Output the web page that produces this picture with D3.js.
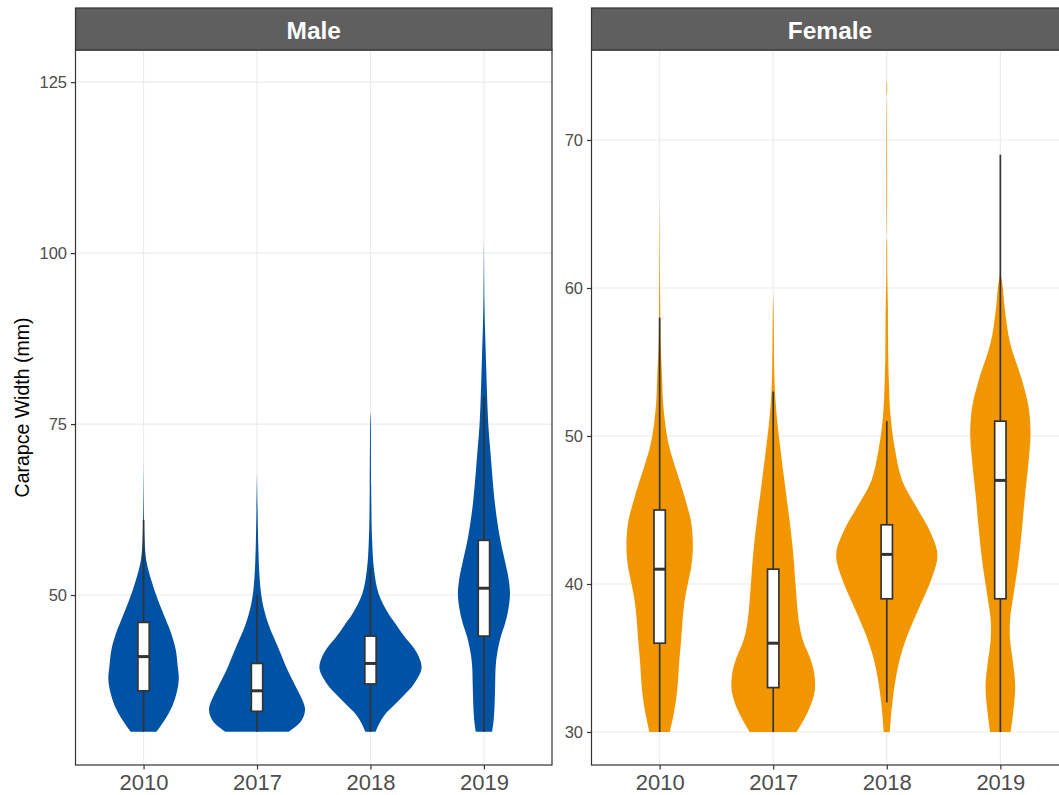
<!DOCTYPE html>
<html>
<head>
<meta charset="utf-8">
<script src="https://cdn.jsdelivr.net/npm/d3@7"></script>
<style>
  html, body { margin: 0; padding: 0; background: #ffffff; }
  svg { display: block; font-family: "Liberation Sans", Arial, sans-serif; }
</style>
</head>
<body>
<svg id="chart" width="1059" height="795"></svg>
<script>
// ---- Data -------------------------------------------------------------
const years = ["2010", "2017", "2018", "2019"];
const sexes = ["Male", "Female"];

// Box statistics per year: [lower whisker, Q1, median, Q3, upper whisker] (mm)
const maleBox = [
  [30, 36, 41, 46, 61],
  [30, 33, 36, 40, 50],
  [30, 37, 40, 44, 54],
  [30, 44, 51, 58, 79]
];
const femaleBox = [
  [30, 36, 41, 45, 58],
  [30, 33, 36, 41, 53],
  [32, 39, 42, 44, 51],
  [30, 39, 47, 51, 69]
];

// Violin density profiles: [carapace width (mm), relative density 0..1]
const maleViolin2010 = [[30,.25],[31.7,.41],[33.9,.57],[36.1,.66],[37.8,.69],[39.5,.67],[42,.63],[44.4,.54],[46.3,.44],[49.3,.28],[52.2,.15],[55.1,.053],[58,.02],[62.9,.006],[69.8,0]];
const maleViolin2017 = [[30,.62],[31.5,.86],[33.2,.94],[34.6,.89],[36.6,.76],[39,.6],[42.4,.41],[45.4,.24],[47.8,.14],[50.2,.08],[53.2,.045],[57.1,.025],[61,.014],[67.8,0]];
const maleViolin2018 = [[30,.1],[31.2,.17],[32.5,.28],[33.8,.45],[35.3,.65],[37,.85],[39.3,1],[41,.945],[42.4,.835],[43.9,.67],[45.6,.51],[47.3,.35],[50.2,.16],[53.7,.07],[58.5,.03],[65.8,.014],[75.6,.006],[76.8,0]];
const maleViolin2019 = [[30,.16],[31.7,.19],[34.2,.21],[37,.22],[39.5,.23],[41.5,.26],[43.9,.33],[46,.42],[48,.48],[50.2,.51],[52.5,.48],[55,.41],[58.5,.31],[63.4,.215],[70.7,.13],[75,.085],[79.5,.06],[84.4,.04],[89.2,.02],[92.7,.01],[102,0]];

const femaleViolin2010 = [[30,.2],[31.3,.28],[32.4,.33],[33.5,.36],[34.6,.38],[36.2,.42],[38,.46],[39.1,.5],[40,.55],[41.2,.62],[42.5,.65],[44.1,.62],[45.5,.52],[47,.39],[48.4,.26],[49.7,.16],[51.1,.1],[52.4,.065],[53.8,.05],[56.3,.02],[59.2,.01],[66.1,0]];
const femaleViolin2017 = [[30,.46],[31.3,.67],[32.4,.79],[33.1,.82],[34.2,.79],[35.1,.71],[36.2,.58],[37.3,.51],[38.5,.47],[40.3,.43],[42.1,.39],[44.3,.32],[46.4,.24],[48.6,.16],[50.6,.09],[52.4,.045],[53.8,.025],[55.1,.018],[58.3,.008],[59.7,0]];
const femaleViolin2018 = [[30,.06],[31.7,.1],[33.5,.17],[35,.26],[36.5,.4],[38.3,.62],[40.3,.87],[42,.99],[43.6,.84],[45.2,.58],[47,.3],[49.3,.15],[51.5,.07],[53.8,.04],[55.1,.03],[59,.02],[60.8,.01],[63.2,.005],[63.4,0],[72.9,0],[73.2,.005],[73.8,.005],[74,0]];
const femaleViolin2019 = [[30,.2],[31.3,.25],[33.1,.29],[34.6,.25],[36.2,.19],[37.6,.19],[39.1,.25],[41.4,.35],[43.6,.42],[45.9,.48],[48.2,.55],[50.2,.59],[52,.55],[53.8,.42],[56.3,.19],[58.5,.09],[60.1,.045],[61.1,0]];

const maleViolins = [maleViolin2010, maleViolin2017, maleViolin2018, maleViolin2019];
const femaleViolins = [femaleViolin2010, femaleViolin2017, femaleViolin2018, femaleViolin2019];

const maleTicks = [50, 75, 100, 125];
const femaleTicks = [30, 40, 50, 60, 70];

// ---- Layout -----------------------------------------------------------
const svg = d3.select("#chart");
const panelTop = 50, panelBottom = 765, stripTop = 8;

const panels = [
  { name: sexes[0], x0: 75.5, x1: 552, domain: [25.15, 129.7], ticks: maleTicks,
    box: maleBox, violins: maleViolins, fill: "#0052A5" },
  { name: sexes[1], x0: 591.5, x1: 1068.5, domain: [27.77, 76.08], ticks: femaleTicks,
    box: femaleBox, violins: femaleViolins, fill: "#F29600" }
];

const lineCol = "#333333";

panels.forEach(p => {
  const x = d3.scalePoint().domain(years).range([p.x0, p.x1]).padding(0.6);
  const y = d3.scaleLinear().domain(p.domain).range([panelBottom, panelTop]);
  const halfMax = 0.45 * x.step();
  const boxHalf = 0.05 * x.step();

  const g = svg.append("g");

  // panel background
  g.append("rect")
    .attr("x", p.x0).attr("y", panelTop)
    .attr("width", p.x1 - p.x0).attr("height", panelBottom - panelTop)
    .attr("fill", "#ffffff");

  // major grid
  g.append("g").selectAll("line").data(p.ticks).join("line")
    .attr("x1", p.x0).attr("x2", p.x1)
    .attr("y1", d => y(d)).attr("y2", d => y(d))
    .attr("stroke", "#ebebeb").attr("stroke-width", 1.1);
  g.append("g").selectAll("line").data(years).join("line")
    .attr("x1", d => x(d)).attr("x2", d => x(d))
    .attr("y1", panelTop).attr("y2", panelBottom)
    .attr("stroke", "#ebebeb").attr("stroke-width", 1.1);

  // violins
  years.forEach((yr, i) => {
    const cx = x(yr);
    const area = d3.area()
      .y(d => y(d[0]))
      .x0(d => cx - d[1] * halfMax)
      .x1(d => cx + d[1] * halfMax)
      .curve(d3.curveCatmullRom.alpha(0.5));
    g.append("path")
      .datum(p.violins[i])
      .attr("d", area)
      .attr("fill", p.fill)
      .attr("stroke", "none");
  });

  // boxplots
  years.forEach((yr, i) => {
    const cx = x(yr);
    const [lo, q1, med, q3, hi] = p.box[i];
    g.append("line")
      .attr("x1", cx).attr("x2", cx).attr("y1", y(hi)).attr("y2", y(q3))
      .attr("stroke", lineCol).attr("stroke-width", 1.7);
    g.append("line")
      .attr("x1", cx).attr("x2", cx).attr("y1", y(q1)).attr("y2", y(lo))
      .attr("stroke", lineCol).attr("stroke-width", 1.7);
    g.append("rect")
      .attr("x", cx - boxHalf).attr("y", y(q3))
      .attr("width", 2 * boxHalf).attr("height", y(q1) - y(q3))
      .attr("fill", "#ffffff").attr("stroke", lineCol).attr("stroke-width", 1.7);
    g.append("line")
      .attr("x1", cx - boxHalf).attr("x2", cx + boxHalf)
      .attr("y1", y(med)).attr("y2", y(med))
      .attr("stroke", lineCol).attr("stroke-width", 3);
  });

  // panel border
  g.append("rect")
    .attr("x", p.x0).attr("y", panelTop)
    .attr("width", p.x1 - p.x0).attr("height", panelBottom - panelTop)
    .attr("fill", "none").attr("stroke", lineCol).attr("stroke-width", 1.2);

  // strip
  g.append("rect")
    .attr("x", p.x0).attr("y", stripTop)
    .attr("width", p.x1 - p.x0).attr("height", panelTop - stripTop)
    .attr("fill", "#5f5f5f").attr("stroke", lineCol).attr("stroke-width", 1.2);
  g.append("text")
    .attr("x", (p.x0 + p.x1) / 2).attr("y", (stripTop + panelTop) / 2 + 1)
    .attr("text-anchor", "middle").attr("dominant-baseline", "central")
    .attr("fill", "#ffffff").attr("font-weight", "bold").attr("font-size", 24.5)
    .text(p.name);

  // y axis
  const ya = g.append("g").attr("transform", `translate(${p.x0},0)`)
    .call(d3.axisLeft(y).tickValues(p.ticks).tickSize(4.5).tickPadding(4));
  ya.select(".domain").remove();
  ya.selectAll(".tick line").attr("stroke", lineCol).attr("stroke-width", 1.2);
  ya.selectAll(".tick text").attr("fill", "#4d4d4d").attr("font-size", 16.5)
    .attr("font-family", "Liberation Sans, Arial, sans-serif");

  // x axis
  const xa = g.append("g").attr("transform", `translate(0,${panelBottom})`)
    .call(d3.axisBottom(x).tickSize(4.5).tickPadding(5));
  xa.select(".domain").remove();
  xa.selectAll(".tick line").attr("stroke", lineCol).attr("stroke-width", 1.2);
  xa.selectAll(".tick text").attr("fill", "#4d4d4d").attr("font-size", 22)
    .attr("font-family", "Liberation Sans, Arial, sans-serif");
});

// y-axis title
svg.append("text")
  .attr("transform", `translate(22,${(panelTop + panelBottom) / 2}) rotate(-90)`)
  .attr("text-anchor", "middle").attr("dominant-baseline", "central")
  .attr("font-size", 19.5).attr("fill", "#000000")
  .text("Carapce Width (mm)");
</script>
</body>
</html>
